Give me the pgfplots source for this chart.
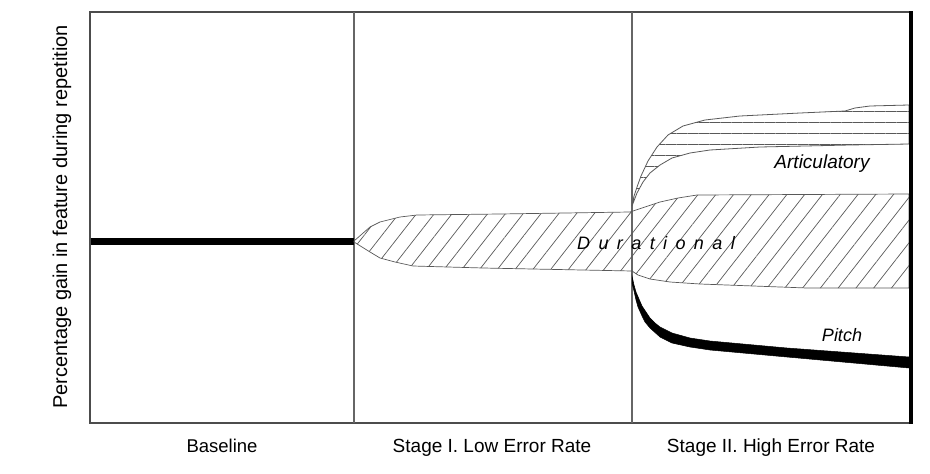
\documentclass[border=0pt]{standalone}
\usepackage{fontspec}
\setmainfont{Liberation Sans}
\usepackage{pgfplots}
\pgfplotsset{compat=1.18}
\usetikzlibrary{patterns.meta}
\begin{document}
\begin{tikzpicture}
\useasboundingbox (0,0) rectangle (930pt,474pt);
\begin{axis}[
  at={(90pt,51pt)}, anchor=south west,
  scale only axis, width=821pt, height=411pt,
  xmin=90, xmax=911, ymin=12, ymax=423, y dir=reverse,
  xtick=\empty, ytick=\empty,
  axis line style={draw=black!70, line width=1.4pt},
  clip=false,
]
% dividers
\addplot[black!60, line width=1.1pt] coordinates {(354,12) (354,423)};
\addplot[black!60, line width=1.1pt] coordinates {(632,12) (632,423)};
% baseline
\addplot[black, line width=7pt] coordinates {(91,241.5) (354,241.5)};
% durational
\addplot[draw=black!65, line width=0.7pt,
  pattern={Lines[angle=52, distance=14pt, line width=0.7pt]}, pattern color=black!65]
  coordinates {(354,241) (362,234) (370,227) (380,222) (400,217) (417,215) (500,214) (630,212)
   (645,207) (660,202) (678,198) (697,195) (909,194)
   (909,288) (807,288) (700,284) (670,282) (650,279) (638,275) (632,271)
   (483,268) (413,266) (395,262) (380,258) (370,252) (362,247) (354,242)} -- cycle;
% articulatory
\addplot[draw=black!65, line width=0.8pt,
  pattern={Lines[angle=0, distance=11pt, line width=0.8pt]}, pattern color=black!65]
  coordinates {(632,206) (634,196) (637,187) (641,176) (648,161) (657,147) (668,135) (683,126)
   (705,120) (740,116) (800,113) (845,111) (855,108) (870,106) (909,105)
   (909,144) (850,145) (760,147) (710,150) (690,153) (672,158) (660,165) (650,173)
   (643,182) (637,193) (632,206)} -- cycle;
% pitch
\addplot[draw=black, fill=black, line width=0.5pt]
  coordinates {(632,276) (634,285) (636,292) (639,299) (642,306) (646,312) (650,318) (655,323)
   (660,327) (672,333) (690,338) (710,341) (787,348) (909,357)
   (909,368) (787,357) (710,350) (690,347) (672,343) (660,337) (650,328) (645,322)
   (642,316) (638,307) (636,300) (634,291) (632,283)} -- cycle;
% right border
\addplot[black, line width=4pt] coordinates {(911,11) (911,424)};
% labels
\node[font=\fontsize{19}{22}\selectfont\itshape] at (axis cs:822,164) {Articulatory};
\node[font=\fontsize{18}{22}\selectfont\itshape] at (axis cs:842,335) {Pitch};
\node[font=\fontsize{18}{22}\selectfont\itshape, fill=none] at (axis cs:656,243)
  {D\kern8.4pt u\kern8.4pt r\kern8.4pt a\kern8.4pt t\kern8.4pt i\kern8.4pt o\kern8.4pt n\kern8.4pt a\kern8.4pt l};
\node[font=\fontsize{18.5}{22}\selectfont, anchor=base] at (axis cs:222,452.5) {Baseline};
\node[font=\fontsize{19}{22}\selectfont, anchor=base] at (axis cs:492,452.5) {Stage I. Low Error Rate};
\node[font=\fontsize{19}{22}\selectfont, anchor=base] at (axis cs:771,452.5) {Stage II. High Error Rate};
\node[font=\fontsize{20}{22}\selectfont, rotate=90] at (axis cs:62,217) {Percentage gain in feature during repetition};
\end{axis}
\end{tikzpicture}
\end{document}
